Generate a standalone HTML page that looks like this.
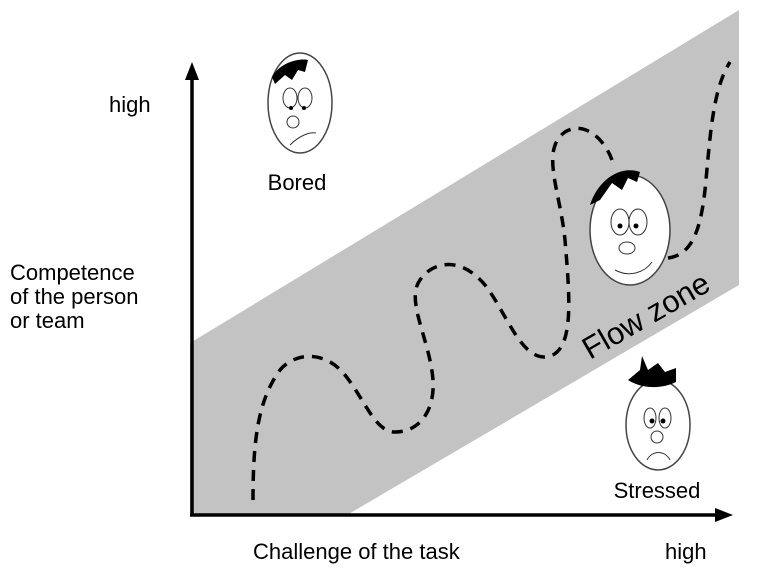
<!DOCTYPE html>
<html><head><style>body{margin:0;background:#fff}svg{display:block}</style></head>
<body>
<svg width="768" height="585" viewBox="0 0 768 585" font-family="Liberation Sans, Arial, sans-serif">
<polygon points="190,343 739,10 739,285 347,515 190,515" fill="#c3c3c3"/>
<path d="M253,500 C253,440 258,400 280,370 C295,352 325,350 345,375 C365,400 375,432 395,432 C420,432 435,410 433,380 C430,340 405,300 420,280 C432,262 460,255 485,285 C505,310 520,358 545,357 C575,355 570,300 565,240 C560,190 540,150 565,132 C585,120 605,140 612,160" fill="none" stroke="#000" stroke-width="3.5" stroke-dasharray="11,8"/>
<path d="M668,258 C690,255 700,235 705,190 C710,140 712,90 730,62" fill="none" stroke="#000" stroke-width="3.5" stroke-dasharray="11,8"/>
<line x1="192" y1="515" x2="192" y2="78" stroke="#000" stroke-width="3.5"/>
<polygon points="192,62 185,80 199,80" fill="#000"/>
<line x1="190" y1="515" x2="718" y2="515" stroke="#000" stroke-width="3.5"/>
<polygon points="733,515 715,508 715,522" fill="#000"/>
<!-- Bored face -->
<ellipse cx="300" cy="103" rx="32" ry="50" fill="#fff" stroke="#444" stroke-width="1.5"/>
<path d="M272,77 C280,62 300,58 308,60 L305,72 L298,70 L292,80 L285,75 L275,84 Z" fill="#000"/>
<ellipse cx="290" cy="98" rx="7" ry="10" fill="none" stroke="#333"/><ellipse cx="305" cy="98" rx="7" ry="10" fill="none" stroke="#333"/>
<circle cx="291" cy="108" r="2" fill="#000"/><circle cx="304" cy="108" r="2" fill="#000"/>
<circle cx="293" cy="122" r="6" fill="none" stroke="#333"/>
<path d="M290,145 C300,135 310,132 316,133" fill="none" stroke="#333"/>
<text x="297" y="190" font-size="22" text-anchor="middle">Bored</text>
<!-- Flow face -->
<ellipse cx="630" cy="230" rx="40" ry="55" fill="#fff" stroke="#444" stroke-width="1.5"/>
<path d="M590,205 C598,180 620,165 640,172 L637,182 L628,178 L622,190 L612,183 L600,200 Z" fill="#000"/>
<ellipse cx="620" cy="222" rx="9" ry="13" fill="none" stroke="#333"/><ellipse cx="638" cy="222" rx="9" ry="13" fill="none" stroke="#333"/>
<circle cx="620" cy="226" r="2.5" fill="#000"/><circle cx="636" cy="226" r="2.5" fill="#000"/>
<ellipse cx="627" cy="248" rx="8" ry="6" fill="none" stroke="#333"/>
<path d="M615,270 C630,278 645,272 652,262" fill="none" stroke="#333"/>
<text x="0" y="0" font-size="31" transform="translate(590,360) rotate(-30)">Flow zone</text>
<!-- Stressed face -->
<ellipse cx="658" cy="425" rx="32" ry="45" fill="#fff" stroke="#444" stroke-width="1.5"/>
<path d="M628,380 L640,370 L642,356 L648,370 L658,363 L665,372 L676,368 L676,382 C660,390 640,388 628,380 Z" fill="#000"/>
<ellipse cx="650" cy="418" rx="6" ry="10" fill="none" stroke="#333"/><ellipse cx="665" cy="418" rx="6" ry="10" fill="none" stroke="#333"/>
<circle cx="652" cy="421" r="2.5" fill="#000"/><circle cx="663" cy="421" r="2.5" fill="#000"/>
<circle cx="657" cy="437" r="6" fill="none" stroke="#333"/>
<path d="M647,460 C652,450 665,450 670,460" fill="none" stroke="#333"/>
<text x="657" y="498" font-size="22" text-anchor="middle">Stressed</text>
<text x="109" y="112" font-size="22">high</text>
<text x="10" y="280" font-size="22">Competence</text>
<text x="10" y="304" font-size="22">of the person</text>
<text x="10" y="328" font-size="22">or team</text>
<text x="253" y="559" font-size="22">Challenge of the task</text>
<text x="665" y="559" font-size="22">high</text>
</svg>
</body></html>
